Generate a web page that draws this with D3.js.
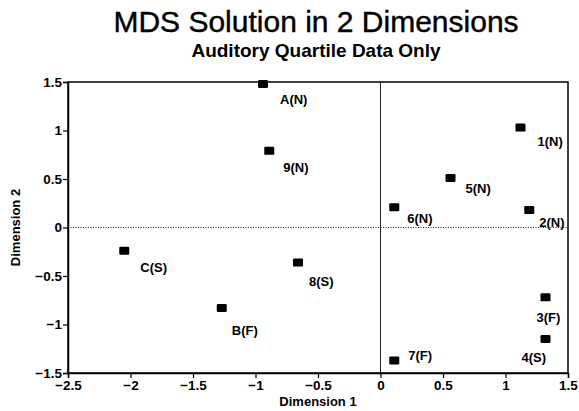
<!DOCTYPE html>
<html><head><meta charset="utf-8">
<script src="https://cdn.jsdelivr.net/npm/d3@7"></script>
<style>body{margin:0;background:#fff}svg{display:block}text{font-family:Arial,"Liberation Sans",sans-serif}</style>
</head><body><svg id="c" width="579" height="411"></svg>
<script>
const labels = ["A(N)","9(N)","8(S)","B(F)","C(S)","6(N)","7(F)","5(N)","1(N)","2(N)","3(F)","4(S)"];
const dim1 = [-0.94,-0.89,-0.66,-1.27,-2.05,0.11,0.11,0.56,1.12,1.19,1.32,1.32];
const dim2 = [1.48,0.79,-0.36,-0.83,-0.24,0.21,-1.37,0.51,1.03,0.18,-0.72,-1.15];
const xTicks = [-2.5,-2,-1.5,-1,-0.5,0,0.5,1,1.5];
const yTicks = [-1.5,-1,-0.5,0,0.5,1,1.5];
// label placement offsets (layout)
const labelDx = [17,14,11,10,16,13,14,15,17,10,-9,-24];
const labelDy = [20,21,24,27,21,16,0,15,18,17,25,23];

const svg = d3.select("#c");
const L=68,R=568,T=82,B=373;
const x = d3.scaleLinear().domain([-2.5,1.5]).range([L,R]);
const y = d3.scaleLinear().domain([-1.5,1.5]).range([B,T]);

svg.append("text").attr("x",316).attr("y",32).attr("text-anchor","middle")
  .attr("font-size",30).attr("stroke","#000").attr("stroke-width",0.4).text("MDS Solution in 2 Dimensions");
svg.append("text").attr("x",316).attr("y",57).attr("text-anchor","middle")
  .attr("font-size",19).attr("font-weight","bold").text("Auditory Quartile Data Only");

// zero lines
svg.append("line").attr("x1",x(0)).attr("x2",x(0)).attr("y1",T).attr("y2",B)
  .attr("stroke","#222").attr("stroke-width",1);
svg.append("line").attr("x1",L).attr("x2",R).attr("y1",y(0)).attr("y2",y(0))
  .attr("stroke","#222").attr("stroke-width",1).attr("stroke-dasharray","1,1.5");

// frame
svg.append("rect").attr("x",L).attr("y",T).attr("width",R-L).attr("height",B-T)
  .attr("fill","none").attr("stroke","#000").attr("stroke-width",1.5);

const xa = svg.append("g").attr("transform",`translate(0,${B})`)
  .call(d3.axisBottom(x).tickValues(xTicks).tickSize(5).tickPadding(2).tickFormat(d=>d3.format("")(d)));
const ya = svg.append("g").attr("transform",`translate(${L},0)`)
  .call(d3.axisLeft(y).tickValues(yTicks).tickSize(5).tickPadding(1).tickFormat(d=>d3.format("")(d)));
[xa,ya].forEach(g=>{
  g.select(".domain").attr("stroke","#000").attr("stroke-width",1.5);
  g.selectAll(".tick line").attr("stroke","#000").attr("stroke-width",1.2);
  g.selectAll("text").attr("font-size",13.5).attr("font-weight","bold").attr("fill","#000")
    .style("font-family","Arial, 'Liberation Sans', sans-serif");
});

svg.append("text").attr("x",318).attr("y",406).attr("text-anchor","middle")
  .attr("font-size",13).attr("font-weight","bold").text("Dimension 1");
svg.append("text").attr("transform",`translate(20,${y(0)}) rotate(-90)`).attr("text-anchor","middle")
  .attr("font-size",13).attr("font-weight","bold").text("Dimension 2");

const pts = labels.map((l,i)=>({l,a:dim1[i],b:dim2[i],dx:labelDx[i],dy:labelDy[i]}));
svg.selectAll("rect.m").data(pts).join("rect").attr("class","m")
  .attr("x",d=>x(d.a)-5).attr("y",d=>y(d.b)-4).attr("width",10).attr("height",8)
  .attr("rx",1.2).attr("fill","#000");
svg.selectAll("text.lb").data(pts).join("text").attr("class","lb")
  .attr("x",d=>x(d.a)+d.dx).attr("y",d=>y(d.b)+d.dy)
  .attr("font-size",13).attr("font-weight","bold").text(d=>d.l);
</script></body></html>
